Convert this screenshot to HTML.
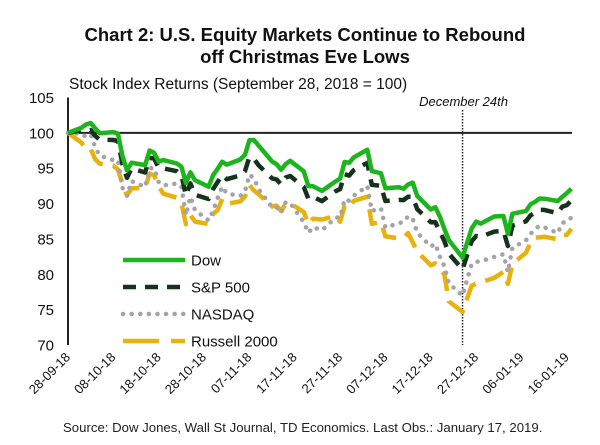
<!DOCTYPE html>
<html><head><meta charset="utf-8"><style>
html,body{margin:0;padding:0;background:#fff;}
svg{display:block;font-family:"Liberation Sans",Arial,sans-serif;}
</style></head><body>
<svg id="chart" width="600" height="445" viewBox="0 0 600 445">
<text x="305" y="41" text-anchor="middle" font-size="18.5" font-weight="bold" fill="#111">Chart 2: U.S. Equity Markets Continue to Rebound</text>
<text x="305" y="63" text-anchor="middle" font-size="18.5" font-weight="bold" fill="#111">off Christmas Eve Lows</text>
<text x="69" y="89" font-size="15.5" fill="#111">Stock Index Returns (September 28, 2018 = 100)</text>
<text x="63" y="432" font-size="13.2" fill="#222">Source: Dow Jones, Wall St Journal, TD Economics. Last Obs.: January 17, 2019.</text>
<g id="axes"></g>
<g id="series"></g>
<g id="legend"></g>
</svg>
<script>
const dates = ["2018-09-28","2018-10-01","2018-10-02","2018-10-03","2018-10-04","2018-10-05","2018-10-08","2018-10-09","2018-10-10","2018-10-11","2018-10-12","2018-10-15","2018-10-16","2018-10-17","2018-10-18","2018-10-19","2018-10-22","2018-10-23","2018-10-24","2018-10-25","2018-10-26","2018-10-29","2018-10-30","2018-10-31","2018-11-01","2018-11-02","2018-11-05","2018-11-06","2018-11-07","2018-11-08","2018-11-09","2018-11-12","2018-11-13","2018-11-14","2018-11-15","2018-11-16","2018-11-19","2018-11-20","2018-11-21","2018-11-23","2018-11-26","2018-11-27","2018-11-28","2018-11-29","2018-11-30","2018-12-03","2018-12-04","2018-12-06","2018-12-07","2018-12-10","2018-12-11","2018-12-12","2018-12-13","2018-12-14","2018-12-17","2018-12-18","2018-12-19","2018-12-20","2018-12-21","2018-12-24","2018-12-26","2018-12-27","2018-12-28","2018-12-31","2019-01-02","2019-01-03","2019-01-04","2019-01-07","2019-01-08","2019-01-09","2019-01-10","2019-01-11","2019-01-14","2019-01-15","2019-01-16","2019-01-17"];
const dowCloses = [26458,26651,26774,26828,26627,26447,26487,26430,25599,25053,25340,25250,25798,25706,25379,25444,25317,25191,24583,24984,24688,24443,24874,25116,25380,25270,25462,25635,26180,26191,25989,25387,25286,25080,25289,25413,25017,24465,24464,24286,24640,24748,25366,25339,25538,25826,25027,24947,24389,24423,24370,24527,24597,24101,23592,23675,23324,22859,22445,21792,22878,23139,23062,23327,23346,22686,23433,23531,23787,23879,24001,23996,23910,24065,24207,24370];
const spxCloses = [2913.98,2924.6,2923.4,2925.5,2901.6,2885.6,2884.4,2880.3,2785.7,2728.4,2767.1,2750.8,2809.9,2809.2,2768.8,2767.8,2755.9,2740.7,2656.1,2705.6,2658.7,2641.3,2682.6,2711.7,2740.4,2723.1,2738.3,2755.5,2813.9,2806.8,2781.0,2726.2,2722.2,2701.6,2730.2,2736.3,2690.7,2641.9,2649.9,2632.6,2673.5,2682.2,2743.8,2737.8,2760.2,2790.4,2700.1,2695.9,2633.1,2637.7,2636.8,2651.1,2650.5,2600.0,2545.9,2546.2,2507.0,2467.4,2416.6,2351.1,2467.7,2488.8,2485.7,2506.9,2510.0,2447.9,2531.9,2549.7,2574.4,2585.0,2596.6,2596.3,2582.6,2610.3,2616.1,2636.0];
const nasdaqCloses = [8046.35,8037.3,7999.5,8025.1,7879.5,7788.5,7736.0,7738.0,7422.1,7329.1,7496.9,7430.7,7645.5,7642.7,7485.1,7449.0,7468.6,7437.5,7108.4,7318.3,7167.2,7050.3,7161.7,7305.9,7434.1,7357.0,7328.9,7376.0,7570.8,7530.9,7406.9,7200.9,7200.9,7136.4,7259.0,7247.9,7028.5,6908.8,6972.3,6939.0,7081.9,7082.7,7291.6,7273.1,7330.5,7441.5,7158.4,7188.3,6969.3,7020.5,7031.8,7098.3,7070.3,6910.7,6753.7,6783.9,6636.8,6528.4,6333.0,6192.9,6554.4,6579.5,6584.5,6635.3,6665.9,6463.5,6738.9,6823.5,6897.0,6957.1,6986.1,6971.5,6905.9,7023.8,7034.7,7084.5];
const russellCloses = [1696.57,1673.0,1656.9,1657.9,1633.2,1622.9,1617.9,1608.6,1575.4,1546.7,1563.2,1565.1,1599.0,1594.5,1568.9,1550.5,1540.9,1528.5,1477.4,1499.3,1483.6,1477.8,1502.1,1511.4,1537.8,1526.4,1532.2,1543.5,1571.4,1558.4,1549.5,1520.0,1522.0,1508.7,1526.7,1527.5,1506.7,1477.3,1490.4,1488.7,1497.4,1483.2,1521.3,1516.0,1533.3,1543.4,1478.4,1483.0,1448.1,1443.1,1445.3,1456.1,1433.9,1411.6,1378.9,1383.5,1369.6,1356.2,1292.1,1266.9,1329.8,1334.9,1337.9,1348.6,1363.0,1334.1,1382.0,1409.0,1434.1,1445.4,1445.7,1447.4,1441.1,1451.1,1451.9,1466.6];
const yTicks = [70,75,80,85,90,95,100,105];
const xTickLabels = ["28-09-18","08-10-18","18-10-18","28-10-18","07-11-18","17-11-18","27-11-18","07-12-18","17-12-18","27-12-18","06-01-19","16-01-19"];
const seriesNames = ["Dow","S&P 500","NASDAQ","Russell 2000"];

const NS="http://www.w3.org/2000/svg";
const X0=68, X1=574, Y0=97.5, Y1=345;
const t0=Date.UTC(2018,8,28);
const DAYPX=4.535;
function dayOf(s){const p=s.split("-");return (Date.UTC(+p[0],+p[1]-1,+p[2])-t0)/86400000;}
function xScale(day){return X0+day*DAYPX;}
function yScale(v){return Y1-(v-70)/35*(Y1-Y0);}
function mk(tag,attrs,parent){const e=document.createElementNS(NS,tag);for(const k in attrs)e.setAttribute(k,attrs[k]);parent.appendChild(e);return e;}

const axes=document.getElementById("axes");
const ser=document.getElementById("series");
const leg=document.getElementById("legend");

yTicks.forEach(v=>{
  const t=mk("text",{x:54,y:yScale(v)+5.5,"text-anchor":"end","font-size":"15",fill:"#111"},axes);
  
  
  t.textContent=v;
});
xTickLabels.forEach((lab,i)=>{
  const x=xScale(i*10)+3, y=358;
  const t=mk("text",{x:x,y:y,"text-anchor":"end","font-size":"13",fill:"#111",transform:"rotate(-45 "+x+" "+y+")"},axes);
  
  
  t.textContent=lab;
});
const ya=mk("line",{x1:X0,y1:Y0,x2:X0,y2:Y1,stroke:"#222","stroke-width":2},axes);


const base=mk("line",{x1:X0,y1:yScale(100),x2:572,y2:yScale(100),stroke:"#222","stroke-width":2},axes);


const xd=xScale(dayOf("2018-12-24"));
const vl=mk("line",{x1:xd,y1:110,x2:xd,y2:Y1,stroke:"#222","stroke-width":1.5,"stroke-dasharray":"1.5,1.5"},axes);


const vt=mk("text",{x:xd+1,y:106,"text-anchor":"middle","font-size":"13","font-style":"italic",fill:"#111"},axes);


vt.textContent="December 24th";

const styles=[
 {stroke:"#1db51d",dash:null,cap:"butt",name:"dow-line"},
 {stroke:"#17321c",dash:"13,9",cap:"butt",name:"sp500-line"},
 {stroke:"#a3a3ab",dash:"0.1,8.5",cap:"round",name:"nasdaq-line"},
 {stroke:"#e8b10c",dash:"20,10",cap:"butt",name:"russell-line"}
];
const data=[dowCloses,spxCloses,nasdaqCloses,russellCloses];
[3,2,1,0].forEach(si=>{
  const arr=data[si], b=arr[0];
  const pts=arr.map((c,i)=>xScale(dayOf(dates[i])).toFixed(1)+","+yScale(c/b*100).toFixed(1)).join(" ");
  const st=styles[si];
  const a={points:pts,fill:"none",stroke:st.stroke,"stroke-width":4.5,"stroke-linejoin":"round","stroke-linecap":st.cap};
  if(st.dash)a["stroke-dasharray"]=st.dash;
  const pl=mk("polyline",a,ser);
  
  
});
seriesNames.forEach((n,i)=>{
  const y=260+i*27, st=styles[i];
  const a={x1:123,y1:y,x2:185,y2:y,stroke:st.stroke,"stroke-width":4.5,"stroke-linecap":st.cap};
  if(st.dash)a["stroke-dasharray"]=i===3?"36,12":st.dash;
  const l=mk("line",a,leg);
  
  
  const t=mk("text",{x:191,y:y+5.5,"font-size":"15",fill:"#111"},leg);
  
  
  t.textContent=n;
});
</script>
</body></html>
